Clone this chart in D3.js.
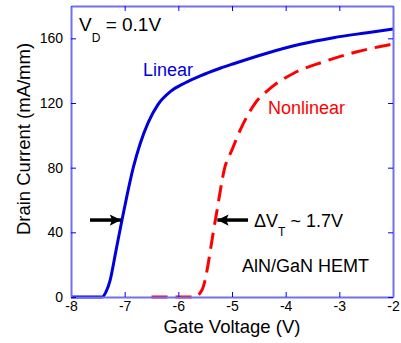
<!DOCTYPE html>
<html>
<head>
<meta charset="utf-8">
<script src="https://cdn.jsdelivr.net/npm/d3@7"></script>
<style>
  body { margin: 0; background: #fff; }
  svg { font-family: Arial, "Liberation Sans", sans-serif; }
</style>
</head>
<body>
<figure id="chart" style="margin:0"></figure>
<script>
// gate voltage (V) vs drain current (mA/mm)
const linearV = [-8, -7.42, -7.35, -7.27, -7.16, -7.05, -6.955, -6.84, -6.71, -6.56, -6.38, -6.15, -5.87, -5.59, -5.22, -4.97, -4.35, -3.73, -3.11, -2.48, -2.0];
const linearI = [0, 0, 3, 10.5, 29, 47.6, 63, 80, 95, 108, 119, 127, 132.5, 136.8, 141.5, 144.3, 150.8, 156.3, 160.4, 163.5, 165.8];
const nonlinearV = [-6.5, -5.7, -5.56, -5.31, -5.13, -5.0, -4.85, -4.57, -4.29, -3.85, -3.29, -2.67, -2.0];
const nonlinearI = [0, 0, 4.3, 47.6, 80.6, 91, 103, 119.8, 129, 138.4, 145.5, 151.7, 156.5];
const xTicks = [-8, -7, -6, -5, -4, -3, -2];
const yTicks = [0, 40, 80, 120, 160];

const width = 401, height = 343;
const margin = {top: 6, right: 8, bottom: 46, left: 71};
const w = width - margin.left - margin.right;
const h = height - margin.top - margin.bottom;

const svg = d3.select("figure#chart")
  .append("svg")
  .attr("width", width)
  .attr("height", height);

const g = svg.append("g")
  .attr("transform", "translate(" + margin.left + "," + margin.top + ")");

const x = d3.scaleLinear().domain([-8, -2]).range([0, w]);
const y = d3.scaleLinear().domain([0, 180]).range([h, 0]);

const line = d3.line()
  .x(d => x(d[0]))
  .y(d => y(d[1]))
  .curve(d3.curveMonotoneX);

// curves
g.append("path")
  .datum(nonlinearV.map((v, i) => [v, nonlinearI[i]]))
  .attr("d", line)
  .attr("fill", "none")
  .attr("stroke", "#ff0000")
  .attr("stroke-width", 3)
  .attr("stroke-dasharray", "16,8");

g.append("path")
  .datum(linearV.map((v, i) => [v, linearI[i]]))
  .attr("d", line)
  .attr("fill", "none")
  .attr("stroke", "#0000dd")
  .attr("stroke-width", 3);

// axes box with inward ticks
const axisColor = "#7070f0";
const tickLen = 5;
const fmt = d => String(d);

g.append("g")
  .attr("transform", "translate(0," + h + ")")
  .call(d3.axisBottom(x).tickValues(xTicks).tickFormat(fmt).tickSizeInner(-tickLen).tickSizeOuter(0).tickPadding(4))
  .call(a => a.select(".domain").attr("stroke", axisColor).attr("stroke-width", 2))
  .call(a => a.selectAll(".tick line").attr("stroke", "#0000ff"))
  .call(a => a.selectAll("text").attr("font-size", 14).attr("fill", "#000").attr("font-family", "Arial, 'Liberation Sans', sans-serif"));

g.append("g")
  .call(d3.axisTop(x).tickValues(xTicks).tickSizeInner(-tickLen).tickSizeOuter(0).tickFormat(""))
  .call(a => a.select(".domain").attr("stroke", axisColor).attr("stroke-width", 2))
  .call(a => a.selectAll(".tick line").attr("stroke", "#0000ff"));

g.append("g")
  .call(d3.axisLeft(y).tickValues(yTicks).tickFormat(fmt).tickSizeInner(-tickLen).tickSizeOuter(0).tickPadding(8))
  .call(a => a.select(".domain").attr("stroke", axisColor).attr("stroke-width", 2))
  .call(a => a.selectAll(".tick line").attr("stroke", "#0000ff"))
  .call(a => a.selectAll("text").attr("font-size", 14).attr("fill", "#000").attr("font-family", "Arial, 'Liberation Sans', sans-serif"));

g.append("g")
  .attr("transform", "translate(" + w + ",0)")
  .call(d3.axisRight(y).tickValues(yTicks).tickSizeInner(-tickLen).tickSizeOuter(0).tickFormat(""))
  .call(a => a.select(".domain").attr("stroke", axisColor).attr("stroke-width", 2))
  .call(a => a.selectAll(".tick line").attr("stroke", "#0000ff"));

// axis titles
svg.append("text")
  .attr("x", margin.left + w / 2)
  .attr("y", 333)
  .attr("text-anchor", "middle")
  .attr("font-size", 18.5)
  .text("Gate Voltage (V)");

svg.append("text")
  .attr("transform", "translate(30,139)rotate(-90)")
  .attr("text-anchor", "middle")
  .attr("font-size", 18.5)
  .text("Drain Current (mA/mm)");

// annotations
const vd = svg.append("text").attr("x", 79).attr("y", 31).attr("font-size", 19);
vd.append("tspan").text("V");
vd.append("tspan").attr("font-size", 12).attr("dy", 11).text("D");
vd.append("tspan").attr("dy", -11).text(" = 0.1V");

svg.append("text")
  .attr("x", 143).attr("y", 76)
  .attr("font-size", 18)
  .attr("fill", "#0000dd")
  .text("Linear");

svg.append("text")
  .attr("x", 268).attr("y", 114)
  .attr("font-size", 18)
  .attr("fill", "#ff0000")
  .text("Nonlinear");

const dv = svg.append("text").attr("x", 254).attr("y", 227).attr("font-size", 18);
dv.append("tspan").text("ΔV");
dv.append("tspan").attr("font-size", 12).attr("dy", 9).text("T");
dv.append("tspan").attr("dy", -9).text(" ~ 1.7V");

svg.append("text")
  .attr("x", 242).attr("y", 272)
  .attr("font-size", 18)
  .text("AlN/GaN HEMT");

// arrows
svg.append("defs").append("marker")
  .attr("id", "head")
  .attr("viewBox", "0 0 10 10")
  .attr("refX", 10).attr("refY", 5)
  .attr("markerWidth", 4).attr("markerHeight", 3.2)
  .attr("markerUnits", "strokeWidth")
  .attr("orient", "auto")
  .append("path")
  .attr("d", "M0,0L10,5L0,10L2,5Z")
  .attr("fill", "#000");

const arrowY = y(47.6) + margin.top;
svg.append("line")
  .attr("x1", 90).attr("y1", arrowY)
  .attr("x2", margin.left + x(-7.05) - 1).attr("y2", arrowY)
  .attr("stroke", "#000").attr("stroke-width", 3.5)
  .attr("marker-end", "url(#head)");

svg.append("line")
  .attr("x1", 248).attr("y1", arrowY)
  .attr("x2", margin.left + x(-5.31) + 2).attr("y2", arrowY)
  .attr("stroke", "#000").attr("stroke-width", 3.5)
  .attr("marker-end", "url(#head)");
</script>
</body>
</html>
